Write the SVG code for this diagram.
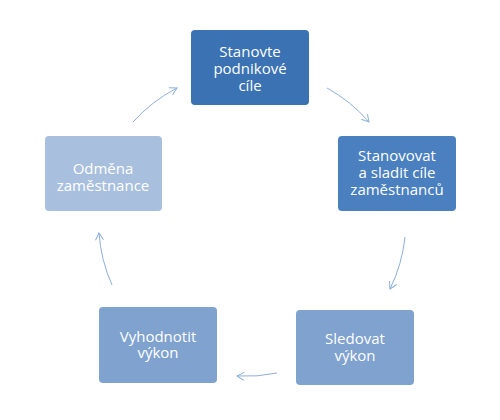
<svg xmlns="http://www.w3.org/2000/svg" width="500" height="420" viewBox="0 0 500 420">
<style>
.box{stroke:none}
.lbl{font-family:"Open Sans","Noto Sans","DejaVu Sans",sans-serif;font-size:15px;fill:#ffffff;text-anchor:middle}
.con{fill:none;stroke:#8DAFDB;stroke-width:1}
</style>
<defs>
<marker id="arr" markerUnits="userSpaceOnUse" markerWidth="12" markerHeight="12" refX="8" refY="5" orient="auto">
<path d="M1,1 L8,5 L1,9" fill="none" stroke="#8DAFDB" stroke-width="1"/>
</marker>
</defs>
<rect width="500" height="420" fill="#ffffff"/>
<g id="connectors">
<path class="con" d="M327,88 A154,154 0 0 1 369,122" marker-end="url(#arr)"/>
<path class="con" d="M405,237 A154,154 0 0 1 390,289" marker-end="url(#arr)"/>
<path class="con" d="M277,373 A154,154 0 0 1 237,376" marker-end="url(#arr)"/>
<path class="con" d="M112,285 A154,154 0 0 1 99,233" marker-end="url(#arr)"/>
<path class="con" d="M133,122 A154,154 0 0 1 177,88" marker-end="url(#arr)"/>
</g>
<g id="node1">
<rect class="box" x="191" y="30" width="118" height="75" rx="4" fill="#3A72B3"/>
<text class="lbl" x="250" y="57"><tspan x="250">Stanovte</tspan><tspan x="250" dy="17">podnikové</tspan><tspan x="250" dy="17">cíle</tspan></text>
</g>
<g id="node2">
<rect class="box" x="338" y="136" width="118" height="75" rx="4" fill="#4A80C0"/>
<text class="lbl" x="397" y="161"><tspan x="397">Stanovovat</tspan><tspan x="397" dy="17">a sladit cíle</tspan><tspan x="397" dy="17">zaměstnanců</tspan></text>
</g>
<g id="node3">
<rect class="box" x="296" y="310" width="118" height="75" rx="4" fill="#7FA2CF"/>
<text class="lbl" x="355" y="344"><tspan x="355">Sledovat</tspan><tspan x="355" dy="17">výkon</tspan></text>
</g>
<g id="node4">
<rect class="box" x="99" y="307" width="118" height="76" rx="4" fill="#7FA2CF"/>
<text class="lbl" x="158" y="342"><tspan x="158">Vyhodnotit</tspan><tspan x="158" dy="16">výkon</tspan></text>
</g>
<g id="node5">
<rect class="box" x="45" y="136" width="117" height="75" rx="4" fill="#A9BFDE"/>
<text class="lbl" x="103" y="174"><tspan x="103">Odměna</tspan><tspan x="103" dy="17">zaměstnance</tspan></text>
</g>
</svg>
